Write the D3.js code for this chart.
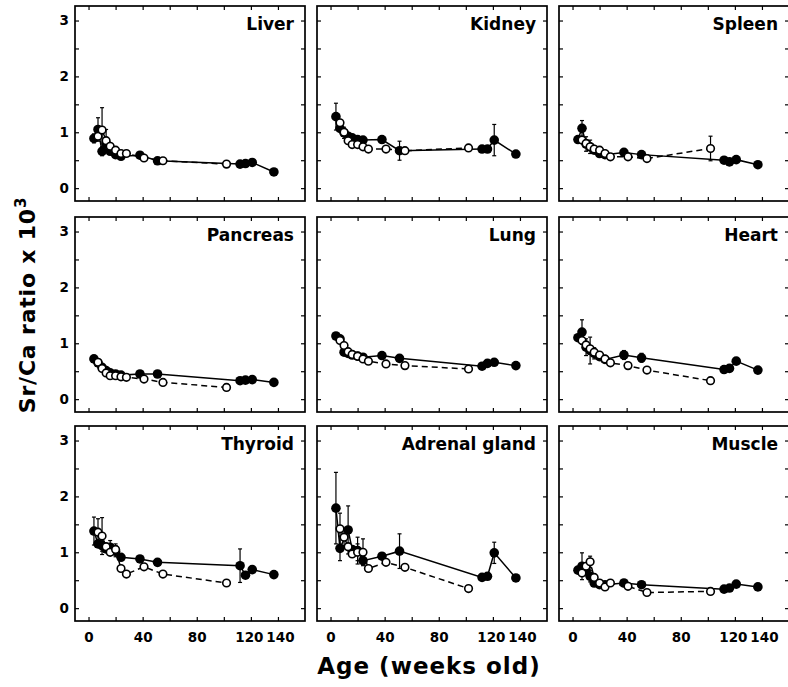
<!DOCTYPE html>
<html>
<head>
<meta charset="utf-8">
<script src="https://cdn.jsdelivr.net/npm/d3@7"></script>
<style>
  body { margin: 0; background: #fff; }
  svg { display: block; font-family: "DejaVu Sans", "Liberation Sans", Arial, sans-serif; }
</style>
</head>
<body>
<svg id="chart" width="788" height="687"></svg>
<script>
// organs, one per panel (row by row)
const organs = ['Liver', 'Kidney', 'Spleen', 'Pancreas', 'Lung', 'Heart', 'Thyroid', 'Adrenal gland', 'Muscle'];

// ages (weeks) of the two groups
const filledAge = [4, 7, 10, 13, 16, 20, 24, 38, 51, 112, 116, 121, 137];
const openAge = [7, 10, 13, 16, 20, 24, 28, 41, 55, 102];

// Sr/Ca x 10^3, filled circles (solid line), per organ
const filledVals = [
    [0.89, 1.05, 0.66, 0.80, 0.66, 0.60, 0.57, 0.59, 0.49, 0.43, 0.44, 0.46, 0.29],
    [1.28, 1.07, 0.99, 0.93, 0.90, 0.87, 0.86, 0.87, 0.67, 0.70, 0.70, 0.86, 0.61],
    [0.87, 1.07, 0.79, 0.74, 0.68, 0.62, 0.60, 0.64, 0.60, 0.50, 0.47, 0.51, 0.42],
    [0.72, 0.65, 0.57, 0.51, 0.47, 0.45, 0.43, 0.45, 0.45, 0.33, 0.34, 0.35, 0.30],
    [1.13, 1.08, 0.84, 0.82, 0.79, 0.77, 0.75, 0.78, 0.73, 0.59, 0.64, 0.66, 0.60],
    [1.10, 1.20, 0.93, 0.87, 0.82, 0.76, 0.71, 0.79, 0.74, 0.53, 0.55, 0.68, 0.52],
    [1.38, 1.15, 1.12, 1.06, 1.09, 1.02, 0.91, 0.88, 0.82, 0.76, 0.59, 0.69, 0.60],
    [1.79, 1.07, null, 1.40, 1.05, 1.03, 0.85, 0.93, 1.02, 0.55, 0.57, 0.99, 0.54],
    [0.68, 0.75, 0.69, 0.57, 0.45, 0.42, 0.42, 0.45, 0.42, 0.34, 0.36, 0.43, 0.38]
];
const filledErr = [
    [0.08, 0.21, 0.08, 0.10, 0, 0, 0, 0, 0, 0, 0, 0, 0],
    [0.24, 0, 0.10, 0, 0, 0, 0, 0, 0.17, 0, 0, 0.28, 0],
    [0, 0.14, 0.13, 0.12, 0, 0, 0, 0, 0, 0, 0, 0, 0],
    [0, 0, 0, 0, 0, 0, 0, 0, 0, 0, 0.05, 0, 0],
    [0, 0, 0, 0, 0, 0, 0, 0, 0, 0, 0, 0, 0],
    [0, 0.22, 0.15, 0.24, 0.10, 0, 0, 0.08, 0.08, 0, 0, 0, 0],
    [0.25, 0, 0.10, 0, 0.12, 0.10, 0, 0, 0, 0.30, 0, 0, 0],
    [0.64, 0.22, 0, 0.43, 0, 0.24, 0, 0, 0.31, 0, 0, 0.19, 0],
    [0, 0.24, 0.10, 0.10, 0, 0, 0, 0, 0, 0, 0, 0, 0]
];

// open circles (dashed line), per organ
const openVals = [
    [0.93, 1.04, 0.85, 0.75, 0.68, 0.62, 0.62, 0.54, 0.49, 0.43],
    [1.17, 1.00, 0.85, 0.78, 0.78, 0.74, 0.70, 0.70, 0.67, 0.72],
    [0.86, 0.80, 0.74, 0.70, 0.68, 0.62, 0.56, 0.56, 0.53, 0.71],
    [0.66, 0.55, 0.47, 0.42, 0.42, 0.40, 0.39, 0.36, 0.30, 0.21],
    [1.05, 0.96, 0.85, 0.80, 0.77, 0.72, 0.68, 0.63, 0.60, 0.54],
    [1.05, 0.97, 0.90, 0.84, 0.79, 0.72, 0.65, 0.60, 0.52, 0.33],
    [1.36, 1.29, 1.10, 1.00, 1.05, 0.71, 0.61, 0.74, 0.61, 0.45],
    [1.42, 1.27, 1.10, 0.97, 1.00, 1.00, 0.71, 0.82, 0.73, 0.35],
    [0.63, 0.75, 0.83, 0.55, 0.45, 0.38, 0.45, 0.39, 0.28, 0.30]
];
const openErr = [
    [0, 0.40, 0.20, 0, 0, 0, 0, 0, 0, 0],
    [0, 0, 0, 0, 0, 0, 0, 0, 0, 0.06],
    [0, 0, 0, 0, 0, 0, 0, 0, 0, 0.22],
    [0, 0, 0, 0, 0, 0, 0, 0, 0, 0],
    [0, 0, 0, 0, 0, 0, 0, 0, 0, 0],
    [0, 0, 0, 0, 0, 0, 0, 0, 0, 0],
    [0.24, 0.33, 0, 0, 0.10, 0, 0, 0, 0, 0],
    [0.28, 0.15, 0, 0, 0.15, 0.24, 0, 0, 0, 0],
    [0, 0, 0.10, 0, 0, 0, 0, 0, 0, 0]
];

const xTicks = [0, 20, 40, 60, 80, 100, 120, 140];
const xLabels = [0, 40, 80, 120, 140];
const yTicks = [0, 0.5, 1, 1.5, 2, 2.5, 3];
const yLabels = [0, 1, 2, 3];

// layout
const colX = [75, 317, 559],
      rowY = [6, 217, 426],
      pw = 230,
      ph = 195;

const svg = d3.select('#chart');

const x = d3.scaleLinear().domain([-10, 160]).range([0, pw]);
const y = d3.scaleLinear().domain([-0.23, 3.26]).range([ph, 0]);

const draw_panel = function(i) {
    const col = i % 3, row = Math.floor(i / 3);
    const g = svg.append('g')
        .attr('transform', 'translate(' + colX[col] + ',' + rowY[row] + ')');

    // ticks on all four sides, pointing in
    g.append('g').call(d3.axisLeft(y).tickValues(yTicks)
        .tickSizeInner(-4).tickSizeOuter(0).tickPadding(6)
        .tickFormat(d => (col === 0 && yLabels.includes(d)) ? d : ''));
    g.append('g').attr('transform', 'translate(' + pw + ',0)')
        .call(d3.axisRight(y).tickValues(yTicks).tickSizeInner(-4).tickSizeOuter(0).tickFormat(''));
    const bottom = g.append('g').attr('transform', 'translate(0,' + ph + ')')
        .call(d3.axisBottom(x).tickValues(xTicks)
            .tickSizeInner(-4).tickSizeOuter(0).tickPadding(11)
            .tickFormat(d => (row === 2 && xLabels.includes(d)) ? d : ''));
    g.append('g').call(d3.axisTop(x).tickValues(xTicks).tickSizeInner(-4).tickSizeOuter(0).tickFormat(''));

    // 120 and 140 sit close, push them apart a little
    bottom.selectAll('.tick text')
        .attr('dx', d => d === 120 ? -2 : (d === 140 ? 2 : 0));

    g.selectAll('.domain').remove();
    g.selectAll('.tick line').attr('stroke', '#000').attr('stroke-width', 1.2);
    g.selectAll('.tick text')
        .attr('font-family', '"DejaVu Sans", sans-serif')
        .attr('font-size', 13.5).attr('font-weight', 'bold').attr('fill', '#000');

    g.append('rect')
        .attr('width', pw).attr('height', ph)
        .attr('fill', 'none').attr('stroke', '#000').attr('stroke-width', 1.7);

    g.append('text')
        .attr('x', pw - 11).attr('y', 24)
        .attr('text-anchor', 'end')
        .attr('font-size', 17).attr('font-weight', 'bold')
        .text(organs[i]);

    const filled = filledAge.map((a, k) => ({ a: a, v: filledVals[i][k], e: filledErr[i][k] }))
        .filter(d => d.v !== null);
    const open = openAge.map((a, k) => ({ a: a, v: openVals[i][k], e: openErr[i][k] }))
        .filter(d => d.v !== null);

    const line = d3.line().x(d => x(d.a)).y(d => y(d.v));

    g.append('path').datum(open).attr('d', line)
        .attr('fill', 'none').attr('stroke', '#000').attr('stroke-width', 1.5)
        .attr('stroke-dasharray', '6,4');
    g.append('path').datum(filled).attr('d', line)
        .attr('fill', 'none').attr('stroke', '#000').attr('stroke-width', 1.5);

    // error bars
    const bars = filled.concat(open).filter(d => d.e > 0);
    const eb = g.selectAll('.err').data(bars).enter().append('g').attr('class', 'err');
    eb.append('line')
        .attr('x1', d => x(d.a)).attr('x2', d => x(d.a))
        .attr('y1', d => y(d.v - d.e)).attr('y2', d => y(d.v + d.e))
        .attr('stroke', '#000').attr('stroke-width', 1.2);
    eb.append('line')
        .attr('x1', d => x(d.a) - 2).attr('x2', d => x(d.a) + 2)
        .attr('y1', d => y(d.v + d.e)).attr('y2', d => y(d.v + d.e))
        .attr('stroke', '#000').attr('stroke-width', 1.2);
    eb.append('line')
        .attr('x1', d => x(d.a) - 2).attr('x2', d => x(d.a) + 2)
        .attr('y1', d => y(d.v - d.e)).attr('y2', d => y(d.v - d.e))
        .attr('stroke', '#000').attr('stroke-width', 1.2);

    g.selectAll('.fdot').data(filled).enter().append('circle')
        .attr('cx', d => x(d.a)).attr('cy', d => y(d.v)).attr('r', 4.8)
        .attr('fill', '#000');
    g.selectAll('.odot').data(open).enter().append('circle')
        .attr('cx', d => x(d.a)).attr('cy', d => y(d.v)).attr('r', 3.8)
        .attr('fill', '#fff').attr('stroke', '#000').attr('stroke-width', 1.6);
}

for (let i = 0; i < organs.length; i++) {
    draw_panel(i);
}

// axis titles
svg.append('text')
    .attr('x', colX[1] + pw / 2 - 3).attr('y', 674)
    .attr('text-anchor', 'middle')
    .attr('font-size', 23).attr('font-weight', 'bold')
    .attr('letter-spacing', 1)
    .text('Age (weeks old)');

const yt = svg.append('text')
    .attr('transform', 'translate(35,305) rotate(-90)')
    .attr('text-anchor', 'middle')
    .attr('font-size', 22).attr('font-weight', 'bold')
    .attr('letter-spacing', 0.8);
yt.append('tspan').text('Sr/Ca ratio x 10');
yt.append('tspan').attr('font-size', 15).attr('dy', -9).text('3');
</script>
</body>
</html>
